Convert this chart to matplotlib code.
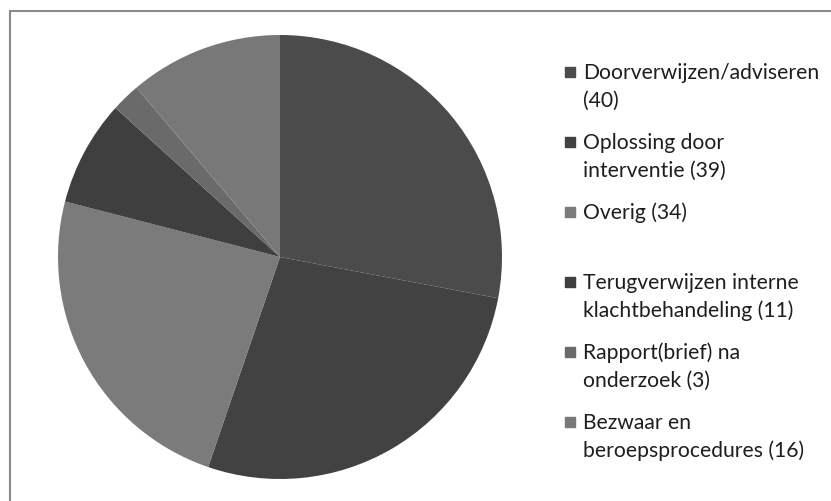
import matplotlib.pyplot as plt
from matplotlib.patches import Rectangle

# data
labels = ['Doorverwijzen/adviseren\n(40)',
          'Oplossing door\ninterventie (39)',
          'Overig (34)',
          'Terugverwijzen interne\nklachtbehandeling (11)',
          'Rapport(brief) na\nonderzoek (3)',
          'Bezwaar en\nberoepsprocedures (16)']
values = [40, 39, 34, 11, 3, 16]
colors = ['#4b4b4b', '#424242', '#7b7b7b', '#3f3f3f', '#6a6a6a', '#787878']

W, H = 831, 502
fig = plt.figure(figsize=(W / 100, H / 100), dpi=100)
plt.rcParams['font.family'] = ['Lato', 'DejaVu Sans']

# frame around the chart area (cut off at right/bottom)
fig.patches.append(Rectangle((10 / W, -0.05), 1.1, (H - 12) / H + 0.05,
                             transform=fig.transFigure, fill=False,
                             edgecolor='#8a8a8a', linewidth=1.5))

# pie
cx, cy, r = 280, 258, 222
ax = fig.add_axes([(cx - r) / W, (H - cy - r) / H, 2 * r / W, 2 * r / H])
ax.pie(values, colors=colors, startangle=90, counterclock=False,
       wedgeprops={'linewidth': 0})
ax.set_xlim(-1, 1)
ax.set_ylim(-1, 1)
ax.set_aspect('equal')
ax.axis('off')

# legend, drawn by hand (entries about 70 px apart)
y0, step = 73, 70
for i, (lab, col) in enumerate(zip(labels, colors)):
    y = y0 + step * i
    fig.patches.append(Rectangle((565 / W, (H - y - 5) / H), 10 / W, 10 / H,
                                 transform=fig.transFigure, color=col))
    for k, line in enumerate(lab.split('\n')):
        fig.text(583 / W, (H - y - 28 * k) / H, line, fontsize=15.2,
                 va='center', ha='left', color='#1e1e1e')

fig.savefig('out.png', dpi=100, facecolor='white')
